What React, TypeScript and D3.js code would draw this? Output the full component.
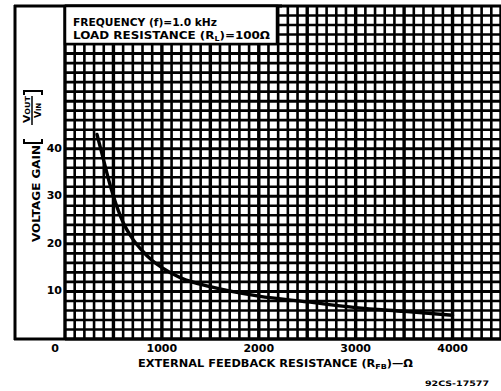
import React from 'react';
import * as d3 from 'd3';

// feedback resistance (ohms) and the voltage gain
const resistance = [330, 400, 450, 500, 600, 700, 800, 900, 1000, 1200, 1500, 2000, 2500, 3000, 3500, 4000];
const gain = [43, 37.5, 33.5, 30, 24.5, 21, 18.5, 16.5, 15, 12.8, 11, 9, 7.8, 6.6, 5.8, 5.0];

const xTicks = [0, 1000, 2000, 3000, 4000];
const yTicks = [10, 20, 30, 40];

const W = 501;
const H = 391;

export default function App() {
  const x = d3.scaleLinear().domain([0, 4500]).range([65, 501]);
  const y = d3.scaleLinear().domain([0, 70]).range([339, 6]);

  const vLines = d3.range(0, 4501, 100);
  const hLines = d3.range(0, 71, 2);

  const pts = resistance.map((r, i) => [r, gain[i]] as [number, number]);
  const line = d3.line<[number, number]>()
    .x(d => x(d[0]))
    .y(d => y(d[1]))
    .curve(d3.curveMonotoneX);

  const font = '"DejaVu Sans", sans-serif';

  return (
    <svg width={W} height={H} style={{ position: 'absolute', left: 0, top: 0, background: '#fff' }}
      fontFamily={font} fontWeight="bold">
      <rect x={0} y={0} width={W} height={H} fill="#fff" />

      {/* grid */}
      {vLines.map(v => (
        <line key={'v' + v} x1={x(v)} x2={x(v)} y1={y(70)} y2={y(0)}
          stroke="#000" strokeWidth={v % 500 === 0 ? 3.4 : 2.6} />
      ))}
      {hLines.map(h => (
        <line key={'h' + h} x1={x(0)} x2={W} y1={y(h)} y2={y(h)}
          stroke="#000" strokeWidth={h % 10 === 0 ? 3 : 2.6} />
      ))}

      {/* frame */}
      <line x1={15} x2={15} y1={5} y2={340} stroke="#000" strokeWidth={3} />
      <line x1={14} x2={W} y1={339} y2={339} stroke="#000" strokeWidth={3} />
      <line x1={14} x2={282} y1={6} y2={6} stroke="#000" strokeWidth={3} />

      {/* condition box */}
      <rect x={x(0)} y={6} width={212} height={38} fill="#fff" stroke="#000" strokeWidth={2.5} />
      <text x={73} y={26} fontSize={10.5} textLength={144} lengthAdjust="spacingAndGlyphs">FREQUENCY (f)=1.0 kHz</text>
      <text x={73} y={39} fontSize={10.5} textLength={197} lengthAdjust="spacingAndGlyphs">
        LOAD RESISTANCE (R<tspan fontSize={7} dy={2}>L</tspan><tspan dy={-2}>)=100Ω</tspan>
      </text>

      {/* curve */}
      <path d={line(pts) ?? ''} fill="none" stroke="#000" strokeWidth={3.4} strokeLinecap="round" />

      {/* tick labels */}
      {xTicks.map(t => (
        <text key={'xt' + t} x={t === 0 ? x(t) - 10 : x(t)} y={352} fontSize={11} textAnchor="middle">{t}</text>
      ))}
      {yTicks.map(t => (
        <text key={'yt' + t} x={62} y={y(t)} fontSize={11} textAnchor="end" dominantBaseline="middle">{t}</text>
      ))}

      {/* axis titles */}
      <text x={138} y={367} fontSize={10} textLength={275} lengthAdjust="spacingAndGlyphs">
        EXTERNAL FEEDBACK RESISTANCE (R<tspan fontSize={7} dy={2}>FB</tspan><tspan dy={-2}>)—Ω</tspan>
      </text>
      <text transform="translate(40,242) rotate(-90)" fontSize={11} textLength={97} lengthAdjust="spacingAndGlyphs">VOLTAGE GAIN</text>
      <g>
        <path d="M24,139 L24,143 L42,143 L42,139" fill="none" stroke="#000" strokeWidth={2} />
        <path d="M24,95 L24,91 L42,91 L42,95" fill="none" stroke="#000" strokeWidth={2} />
        <line x1={32} x2={32} y1={96} y2={125} stroke="#000" strokeWidth={1.5} />
        <text transform="translate(30,123) rotate(-90)" fontSize={9.5} textLength={27} lengthAdjust="spacingAndGlyphs">V<tspan fontSize={7}>OUT</tspan></text>
        <text transform="translate(41,118) rotate(-90)" fontSize={9.5} textLength={15} lengthAdjust="spacingAndGlyphs">V<tspan fontSize={7}>IN</tspan></text>
      </g>

      <text x={425} y={386} fontSize={7.5} textLength={64} lengthAdjust="spacingAndGlyphs">92CS-17577</text>
    </svg>
  );
}
